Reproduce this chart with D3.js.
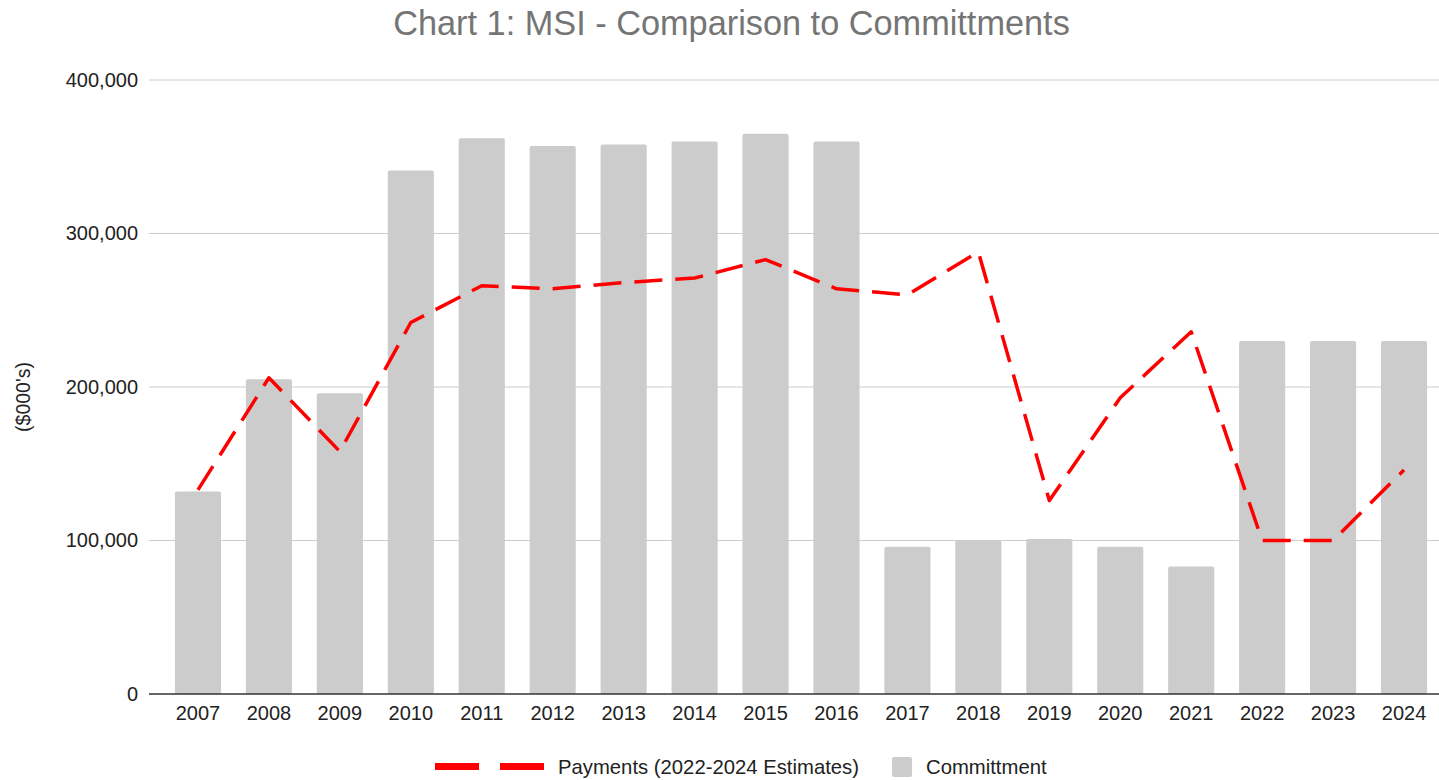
<!DOCTYPE html>
<html>
<head>
<meta charset="utf-8">
<script src="https://cdn.jsdelivr.net/npm/d3@7"></script>
<style>
  body { margin: 0; background: #fff; }
  svg { display: block; font-family: "Liberation Sans", Arial, sans-serif; }
</style>
</head>
<body>
<script>
let years = ["2007","2008","2009","2010","2011","2012","2013","2014","2015","2016","2017","2018","2019","2020","2021","2022","2023","2024"];
let committment = [132000,205000,196000,341000,362000,357000,358000,360000,365000,360000,96000,100000,101000,96000,83000,230000,230000,230000];
let payments = [133000,206000,158000,242000,266000,264000,268000,271000,283000,264000,260000,288000,126000,193000,236000,100000,100000,146000];
let yTicks = [0,100000,200000,300000,400000];

let width = 1439, height = 780;
let plotLeft = 149, plotRight = 1439, plotTop = 80, plotBottom = 694;

let svg = d3.select('body').append('svg')
    .attr('width', width)
    .attr('height', height);

// scales
let x = d3.scaleBand().domain(years).range([162.5, 1439.5]).paddingInner(0.35).paddingOuter(0.175);
let y = d3.scaleLinear().domain([0, 400000]).range([plotBottom, plotTop]);

// title
svg.append('text')
    .attr('x', 731.5).attr('y', 35)
    .attr('text-anchor', 'middle')
    .attr('font-size', '34.3px')
    .attr('fill', '#757575')
    .text('Chart 1: MSI - Comparison to Committments');

// gridlines
svg.selectAll('line.grid')
    .data(yTicks.filter(d => d > 0))
    .enter().append('line')
    .attr('class', 'grid')
    .attr('x1', plotLeft).attr('x2', plotRight)
    .attr('y1', d => y(d)).attr('y2', d => y(d))
    .attr('stroke', '#cccccc').attr('stroke-width', 1);

// y axis labels
let axisY = d3.axisLeft(y).tickValues(yTicks).tickSize(0).tickPadding(11).tickFormat(d3.format(','));
let gy = svg.append('g').attr('transform', `translate(${plotLeft},0)`).call(axisY);
gy.select('.domain').remove();
gy.selectAll('text').attr('font-size', '20px').attr('fill', '#222').attr('font-family', '"Liberation Sans", Arial, sans-serif');

// y axis title
svg.append('text')
    .attr('transform', 'translate(30,397) rotate(-90)')
    .attr('text-anchor', 'middle')
    .attr('font-size', '19.5px')
    .attr('fill', '#222')
    .text("($000's)");

// bars
svg.selectAll('rect.bar')
    .data(committment)
    .enter().append('rect')
    .attr('class', 'bar')
    .attr('x', (d, i) => x(years[i]))
    .attr('y', d => y(d))
    .attr('width', x.bandwidth())
    .attr('height', d => plotBottom - y(d))
    .attr('rx', 2)
    .attr('fill', '#cccccc');

// baseline
svg.append('line')
    .attr('x1', plotLeft).attr('x2', plotRight)
    .attr('y1', plotBottom).attr('y2', plotBottom)
    .attr('stroke', '#333').attr('stroke-width', 1.5);

// x axis labels
let axisX = d3.axisBottom(x).tickSize(0).tickPadding(12);
let gx = svg.append('g').attr('transform', `translate(0,${plotBottom})`).call(axisX);
gx.select('.domain').remove();
gx.selectAll('text').attr('font-size', '20px').attr('fill', '#222').attr('font-family', '"Liberation Sans", Arial, sans-serif');

// payments line
let line = d3.line()
    .x((d, i) => x(years[i]) + x.bandwidth() / 2)
    .y(d => y(d));
svg.append('path')
    .datum(payments)
    .attr('d', line)
    .attr('fill', 'none')
    .attr('stroke', '#ff0000')
    .attr('stroke-width', 3.5)
    .attr('stroke-dasharray', '28,13')
    .attr('stroke-linejoin', 'round');

// legend
let legend = svg.append('g');
legend.append('line')
    .attr('x1', 435).attr('x2', 544)
    .attr('y1', 766.5).attr('y2', 766.5)
    .attr('stroke', '#ff0000').attr('stroke-width', 7)
    .attr('stroke-dasharray', '44,21');
legend.append('text')
    .attr('x', 558).attr('y', 774)
    .attr('font-size', '20.3px').attr('fill', '#222')
    .text('Payments (2022-2024 Estimates)');
legend.append('rect')
    .attr('x', 892).attr('y', 757)
    .attr('width', 20).attr('height', 20)
    .attr('rx', 2)
    .attr('fill', '#cccccc');
legend.append('text')
    .attr('x', 926).attr('y', 774)
    .attr('font-size', '20.3px').attr('fill', '#222')
    .text('Committment');
</script>
</body>
</html>
